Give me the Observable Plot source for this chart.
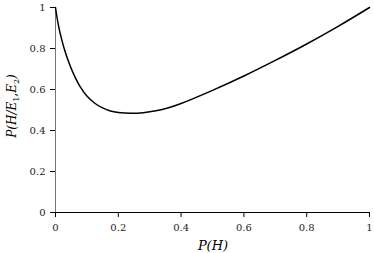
<!DOCTYPE html>
<html><head><meta charset="utf-8">
<script src="https://cdn.jsdelivr.net/npm/d3@7"></script>
<script src="https://cdn.jsdelivr.net/npm/@observablehq/plot@0.6"></script>
<style>
html,body{margin:0;padding:0;background:#fff;}
svg{display:block;}
</style>
</head><body>
<div id="chart"></div>
<script>
const pH  = [0, 0.005, 0.01, 0.02, 0.03, 0.045, 0.06, 0.08, 0.1, 0.125, 0.15, 0.175, 0.2, 0.24, 0.28, 0.32, 0.36, 0.4, 0.5, 0.6, 0.7, 0.8, 0.9, 1];
const pHE = [1, 0.950, 0.908, 0.842, 0.788, 0.722, 0.668, 0.610, 0.568, 0.533, 0.510, 0.495, 0.488, 0.484, 0.487, 0.496, 0.511, 0.532, 0.596, 0.666, 0.742, 0.822, 0.908, 1];
const xTicks = [0, 0.2, 0.4, 0.6, 0.8, 1];
const yTicks = [0, 0.2, 0.4, 0.6, 0.8, 1];

const data = pH.map((x, i) => ({x, y: pHE[i]}));
const FONT = "DejaVu Serif";

const plot = Plot.plot({
  width: 374,
  height: 253,
  marginLeft: 55,
  marginRight: 5,
  marginTop: 7,
  marginBottom: 41,
  style: {fontFamily: FONT, fontSize: "10px", color: "#000", background: "#fff"},
  x: {domain: [0, 1], ticks: xTicks, tickFormat: d => String(d), tickSize: 5, tickPadding: 6, label: null},
  y: {domain: [0, 1], ticks: yTicks, tickFormat: d => String(d), tickSize: 5, tickPadding: 5, label: null},
  marks: [
    Plot.ruleY([0], {stroke: "#000"}),
    Plot.ruleX([0], {stroke: "#777"}),
    Plot.line(data, {x: "x", y: "y", curve: "catmull-rom", stroke: "#000", strokeWidth: 1.5})
  ]
});
document.getElementById("chart").appendChild(plot);

const svg = d3.select(plot);
svg.selectAll("g[aria-label$='tick label']").attr("font-family", FONT).attr("font-size", 10).attr("fill", "#222");
svg.append("text")
  .attr("x", 213).attr("y", 250)
  .attr("text-anchor", "middle")
  .attr("font-family", FONT).attr("font-style", "italic").attr("font-size", 13)
  .text("P(H)");
const yl = svg.append("text")
  .attr("transform", "translate(16,106) rotate(-90)")
  .attr("text-anchor", "middle")
  .attr("font-family", FONT).attr("font-style", "italic").attr("font-size", 12);
yl.append("tspan").text("P(H/E");
yl.append("tspan").attr("dy", 3).attr("font-size", 8).attr("font-style", "normal").text("1");
yl.append("tspan").attr("dy", -3).text(",E");
yl.append("tspan").attr("dy", 3).attr("font-size", 8).attr("font-style", "normal").text("2");
yl.append("tspan").attr("dy", -3).text(")");
</script>
</body></html>
